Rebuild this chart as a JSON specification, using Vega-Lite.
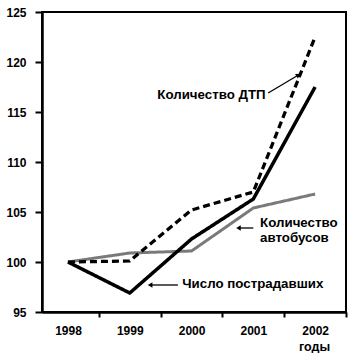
{
  "$schema": "https://vega.github.io/schema/vega-lite/v6.json",
  "width": 304,
  "height": 300,
  "autosize": "none",
  "padding": {"left": 42, "top": 12, "right": 7, "bottom": 41},
  "background": "white",
  "config": {
    "view": {"stroke": "black", "strokeWidth": 2},
    "font": "Liberation Sans",
    "axis": {
      "labelFont": "Liberation Sans", "labelFontWeight": "bold", "labelFontSize": 12, "labelColor": "black",
      "titleFont": "Liberation Sans", "titleFontWeight": "bold", "titleFontSize": 12.5, "titleColor": "black",
      "domainColor": "black", "domainWidth": 2.5, "tickColor": "black", "tickWidth": 2, "grid": false
    }
  },
  "datasets": {
    "series": [
      {"series": "Количество автобусов", "year": 1998, "value": 100},
      {"series": "Количество автобусов", "year": 1999, "value": 100.9},
      {"series": "Количество автобусов", "year": 2000, "value": 101.1},
      {"series": "Количество автобусов", "year": 2001, "value": 105.4},
      {"series": "Количество автобусов", "year": 2002, "value": 106.8},
      {"series": "Количество ДТП", "year": 1998, "value": 100},
      {"series": "Количество ДТП", "year": 1999, "value": 100.1},
      {"series": "Количество ДТП", "year": 2000, "value": 105.2},
      {"series": "Количество ДТП", "year": 2001, "value": 107.0},
      {"series": "Количество ДТП", "year": 2002, "value": 122.5},
      {"series": "Число пострадавших", "year": 1998, "value": 100},
      {"series": "Число пострадавших", "year": 1999, "value": 96.9},
      {"series": "Число пострадавших", "year": 2000, "value": 102.3},
      {"series": "Число пострадавших", "year": 2001, "value": 106.3},
      {"series": "Число пострадавших", "year": 2002, "value": 117.5}
    ],
    "arrows": [
      {"name": "dtp", "year": 2001.24, "value": 116.9, "year2": 2001.73, "value2": 118.7},
      {"name": "bus", "year": 2001.0, "value": 103.4, "year2": 2000.76, "value2": 103.4},
      {"name": "vict", "year": 1999.78, "value": 97.7, "year2": 1999.33, "value2": 97.7}
    ],
    "labelsRight": [
      {"label": "Количество ДТП", "year": 2001.2, "value": 116.7}
    ],
    "labelsLeft": [
      {"label": "Количество", "year": 2001.11, "value": 103.9},
      {"label": "автобусов", "year": 2001.11, "value": 102.4},
      {"label": "Число пострадавших", "year": 1999.85, "value": 97.8}
    ]
  },
  "layer": [
    {
      "data": {"name": "series"},
      "mark": {"type": "line", "strokeCap": "butt", "strokeJoin": "miter"},
      "encoding": {
        "x": {
          "field": "year", "type": "quantitative",
          "scale": {"domain": [1997.58, 2002.5], "nice": false, "zero": false},
          "axis": {
            "values": [1998.5, 1999.5, 2000.5, 2001.5, 2002.5],
            "labelExpr": "format(datum.value - 0.5, 'd')",
            "labelOffset": -30.85, "labelFlush": false, "labelOverlap": false,
            "tickSize": 5, "labelPadding": 8,
            "title": "годы", "titleX": 272, "titleY": 38, "titleAlign": "center", "titleBaseline": "alphabetic", "titleAnchor": null
          }
        },
        "y": {
          "field": "value", "type": "quantitative",
          "scale": {"domain": [95, 125], "nice": false, "zero": false},
          "axis": {"values": [95, 100, 105, 110, 115, 120, 125], "tickSize": 7, "labelPadding": 9, "title": null, "labelFlush": false, "labelOverlap": false}
        },
        "color": {
          "field": "series", "type": "nominal", "legend": null,
          "scale": {"domain": ["Количество автобусов", "Количество ДТП", "Число пострадавших"], "range": ["#7a7a7a", "#000000", "#000000"]}
        },
        "strokeDash": {
          "field": "series", "type": "nominal", "legend": null,
          "scale": {"domain": ["Количество автобусов", "Количество ДТП", "Число пострадавших"], "range": [[1, 0], [7, 4], [1, 0]]}
        },
        "strokeWidth": {
          "field": "series", "type": "nominal", "legend": null,
          "scale": {"domain": ["Количество автобусов", "Количество ДТП", "Число пострадавших"], "range": [3, 3.5, 3.2]}
        }
      }
    },
    {
      "data": {"name": "arrows"},
      "mark": {"type": "rule", "color": "black", "strokeWidth": 1.3},
      "encoding": {
        "x": {"field": "year", "type": "quantitative"},
        "y": {"field": "value", "type": "quantitative"},
        "x2": {"field": "year2"},
        "y2": {"field": "value2"}
      }
    },
    {
      "data": {"name": "arrows"},
      "transform": [{"filter": "datum.name != 'dtp'"}],
      "mark": {"type": "point", "shape": "triangle-left", "filled": true, "color": "black", "size": 28, "opacity": 1},
      "encoding": {
        "x": {"field": "year2", "type": "quantitative"},
        "y": {"field": "value2", "type": "quantitative"}
      }
    },
    {
      "data": {"name": "arrows"},
      "transform": [{"filter": "datum.name == 'dtp'"}],
      "mark": {"type": "point", "shape": "triangle-up", "angle": 58, "filled": true, "color": "black", "size": 28, "opacity": 1},
      "encoding": {
        "x": {"field": "year2", "type": "quantitative"},
        "y": {"field": "value2", "type": "quantitative"}
      }
    },
    {
      "data": {"name": "labelsRight"},
      "mark": {"type": "text", "align": "right", "baseline": "middle", "font": "Liberation Sans", "fontWeight": "bold", "fontSize": 13.3, "color": "black"},
      "encoding": {
        "x": {"field": "year", "type": "quantitative"},
        "y": {"field": "value", "type": "quantitative"},
        "text": {"field": "label"}
      }
    },
    {
      "data": {"name": "labelsLeft"},
      "mark": {"type": "text", "align": "left", "baseline": "middle", "font": "Liberation Sans", "fontWeight": "bold", "fontSize": 13.3, "color": "black"},
      "encoding": {
        "x": {"field": "year", "type": "quantitative"},
        "y": {"field": "value", "type": "quantitative"},
        "text": {"field": "label"}
      }
    }
  ]
}
